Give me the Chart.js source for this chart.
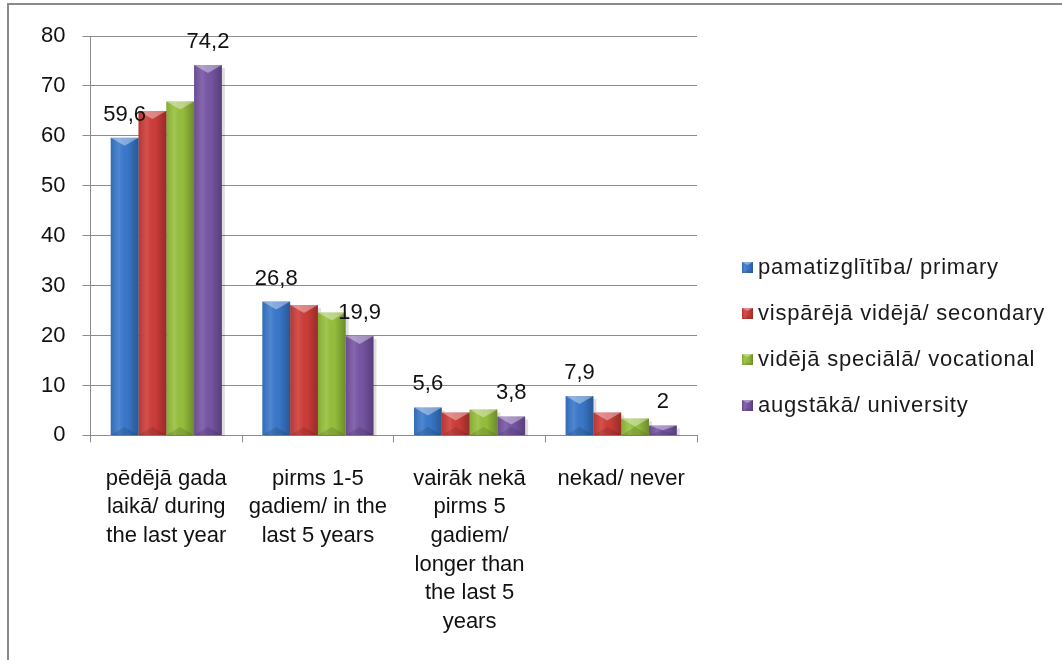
<!DOCTYPE html>
<html>
<head>
<meta charset="utf-8">
<script src="https://cdn.jsdelivr.net/npm/chart.js@4.4.0/dist/chart.umd.min.js"></script>
<style>
  html, body { margin: 0; padding: 0; background: #fff; }
</style>
</head>
<body>
<canvas id="myChart" width="1062" height="660"></canvas>
<script>
'use strict';
// data

const categories = [
  ['pēdējā gada', 'laikā/ during', 'the last year'],
  ['pirms 1-5', 'gadiem/ in the', 'last 5 years'],
  ['vairāk nekā', 'pirms 5', 'gadiem/', 'longer than', 'the last 5', 'years'],
  ['nekad/ never']
];
const seriesNames = [
  'pamatizglītība/ primary',
  'vispārējā vidējā/ secondary',
  'vidējā speciālā/ vocational',
  'augstākā/ university'
];
const primary = [59.6, 26.8, 5.6, 7.9];
const secondary = [65.0, 26.1, 4.6, 4.6];
const vocational = [66.9, 24.6, 5.2, 3.4];
const university = [74.2, 19.9, 3.8, 2];
const yMin = 0;
const yMax = 80;
const yStep = 10;
// only first and last series carry value labels in the original
const labelledSeries = [0, 3];

const seriesColors = ['#3a79cc', '#cf3d39', '#97c13d', '#7856a6'];
const fontFamily = '"Liberation Sans", Arial, sans-serif';

const frame = {
  id: 'frame',
  beforeDraw(chart) {
    const ctx = chart.ctx;
    ctx.save();
    ctx.strokeStyle = '#8a8a8a';
    ctx.lineWidth = 2;
    ctx.strokeRect(8, 4, 2000, 2000);
    ctx.restore();
  }
};

function bevelBox(ctx, left, top, w, h, depth) {
  const right = left + w;
  const mid = left + w / 2;
  let g = ctx.createLinearGradient(left, 0, right, 0);
  g.addColorStop(0, 'rgba(0,0,0,0.12)');
  g.addColorStop(0.3, 'rgba(255,255,255,0.10)');
  g.addColorStop(0.6, 'rgba(0,0,0,0.02)');
  g.addColorStop(1, 'rgba(0,0,0,0.28)');
  ctx.fillStyle = g;
  ctx.fillRect(left, top, w, h);
  let d = Math.min(depth, h / 2);
  ctx.fillStyle = 'rgba(255,255,255,0.38)';
  ctx.beginPath();
  ctx.moveTo(left, top);
  ctx.lineTo(right, top);
  ctx.lineTo(mid, top + d);
  ctx.closePath();
  ctx.fill();
  ctx.fillStyle = 'rgba(0,0,0,0.12)';
  ctx.beginPath();
  ctx.moveTo(left, top + h);
  ctx.lineTo(right, top + h);
  ctx.lineTo(mid, top + h - d);
  ctx.closePath();
  ctx.fill();
}

// fake the office 3d bevel look on top of the library's bars
const bevel = {
  id: 'bevel',
  beforeDatasetsDraw(chart) {
    const ctx = chart.ctx;
    ctx.save();
    ctx.fillStyle = 'rgba(0,0,0,0.13)';
    chart.data.datasets.forEach((ds, i) => {
      chart.getDatasetMeta(i).data.forEach(bar => {
        const left = bar.x - bar.width / 2;
        ctx.fillRect(left + 3, bar.y + 3, bar.width, bar.base - bar.y - 2);
      });
    });
    ctx.restore();
  },
  afterDatasetsDraw(chart) {
    const ctx = chart.ctx;
    ctx.save();
    chart.data.datasets.forEach((ds, i) => {
      chart.getDatasetMeta(i).data.forEach(bar => {
        bevelBox(ctx, bar.x - bar.width / 2, bar.y, bar.width, bar.base - bar.y, 8);
      });
    });
    ctx.restore();
  }
};

const valueLabels = {
  id: 'valueLabels',
  afterDatasetsDraw(chart) {
    const ctx = chart.ctx;
    ctx.save();
    ctx.font = '22px ' + fontFamily;
    ctx.fillStyle = '#111';
    ctx.textAlign = 'center';
    ctx.textBaseline = 'alphabetic';
    labelledSeries.forEach(i => {
      const values = chart.data.datasets[i].data;
      chart.getDatasetMeta(i).data.forEach((bar, j) => {
        ctx.fillText(String(values[j]).replace('.', ','), bar.x, bar.y - 17);
      });
    });
    ctx.restore();
  }
};

// legend drawn by hand so it sits where the office one did
const sideLegend = {
  id: 'sideLegend',
  afterDraw(chart) {
    const ctx = chart.ctx;
    const area = chart.chartArea;
    const x = area.right + 45;
    const rowGap = 46;
    const firstY = 268;
    ctx.save();
    ctx.font = '22px ' + fontFamily;
    ctx.letterSpacing = '0.8px';
    ctx.textBaseline = 'middle';
    ctx.textAlign = 'left';
    chart.data.datasets.forEach((ds, i) => {
      const y = firstY + i * rowGap;
      ctx.fillStyle = ds.backgroundColor;
      ctx.fillRect(x, y - 6, 11, 11);
      bevelBox(ctx, x, y - 6, 11, 11, 3);
      ctx.fillStyle = '#1a1a1a';
      ctx.fillText(ds.label, x + 16, y);
    });
    ctx.restore();
  }
};

const allSeries = [primary, secondary, vocational, university];
const datasets = allSeries.map((values, i) => ({
  label: seriesNames[i],
  data: values,
  backgroundColor: seriesColors[i],
  borderWidth: 0,
  categoryPercentage: 0.733,
  barPercentage: 1
}));

const config = {
  type: 'bar',
  data: { labels: categories, datasets: datasets },
  options: {
    responsive: false,
    animation: false,
    layout: { padding: { left: 24, top: 36, right: 365, bottom: 2 } },
    plugins: {
      tooltip: { enabled: false },
      legend: { display: false }
    },
    scales: {
      x: {
        grid: {
          offset: true,
          drawOnChartArea: false,
          drawTicks: true,
          tickLength: 7,
          color: '#8c8c8c'
        },
        border: { color: '#8c8c8c', width: 1 },
        ticks: {
          color: '#111',
          padding: 22,
          maxRotation: 0,
          autoSkip: false,
          font: { family: fontFamily, size: 22, lineHeight: 1.3 }
        }
      },
      y: {
        min: yMin,
        max: yMax,
        grid: { color: '#8c8c8c', tickLength: 8 },
        border: { color: '#8c8c8c', width: 1 },
        ticks: {
          stepSize: yStep,
          color: '#111',
          padding: 17,
          font: { family: fontFamily, size: 22 }
        }
      }
    }
  },
  plugins: [frame, bevel, valueLabels, sideLegend]
};

const chart = document.getElementById('myChart');
const myChart = new Chart(chart, config);
</script>
</body>
</html>
